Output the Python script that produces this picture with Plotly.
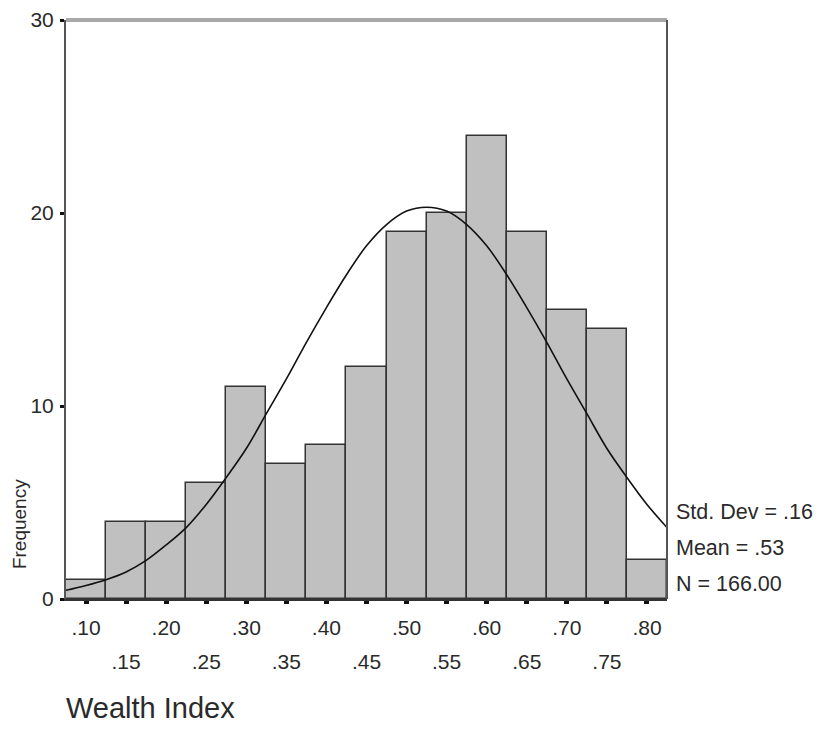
import plotly.graph_objects as go

# Histogram data (bin centres and counts)
bin_centers = [0.10, 0.15, 0.20, 0.25, 0.30, 0.35, 0.40, 0.45, 0.50, 0.55, 0.60, 0.65, 0.70, 0.75, 0.80]
counts = [1, 4, 4, 6, 11, 7, 8, 12, 19, 20, 24, 19, 15, 14, 2]
row1_labels = [".10", ".20", ".30", ".40", ".50", ".60", ".70", ".80"]
row1_vals = [0.10, 0.20, 0.30, 0.40, 0.50, 0.60, 0.70, 0.80]
row2_labels = [".15", ".25", ".35", ".45", ".55", ".65", ".75"]
row2_vals = [0.15, 0.25, 0.35, 0.45, 0.55, 0.65, 0.75]

# Normal curve points
curve_x = [0.075, 0.100, 0.125, 0.150, 0.175, 0.200, 0.225, 0.250, 0.275, 0.300, 0.325,
           0.350, 0.375, 0.400, 0.425, 0.450, 0.475, 0.500, 0.525, 0.550, 0.575, 0.600,
           0.625, 0.650, 0.675, 0.700, 0.725, 0.750, 0.775, 0.800, 0.825]
curve_y = [0.45, 0.7, 1.0, 1.4, 2.0, 2.8, 3.7, 4.9, 6.3, 7.8, 9.6,
           11.4, 13.3, 15.1, 16.8, 18.3, 19.4, 20.1, 20.3, 20.1, 19.4, 18.3,
           16.8, 15.1, 13.3, 11.4, 9.6, 7.8, 6.3, 4.9, 3.7]

y_ticks = [0, 10, 20, 30]
stats_lines = ["Std. Dev = .16", "Mean = .53", "N = 166.00"]

FONT = "Liberation Sans, Arial, sans-serif"
TXT = "#2a2a2a"

fig = go.Figure()
fig.add_trace(go.Bar(
    x=bin_centers, y=counts, width=0.05,
    marker=dict(color="#c0c0c0", line=dict(color="#333333", width=1.5)),
    showlegend=False, hoverinfo="x+y",
))
fig.add_trace(go.Scatter(
    x=curve_x, y=curve_y, mode="lines",
    line=dict(color="#111111", width=1.6, shape="spline"),
    showlegend=False,
))
# invisible trace on second x axis so it renders
fig.add_trace(go.Scatter(x=[0.5], y=[0], xaxis="x2", mode="markers",
                         marker=dict(opacity=0), showlegend=False, hoverinfo="skip"))

fig.update_layout(
    width=813, height=737,
    margin=dict(l=58, r=154, t=12, b=146, autoexpand=False),
    paper_bgcolor="white", plot_bgcolor="white",
    bargap=0,
    font=dict(family=FONT, size=21, color=TXT),
    xaxis=dict(
        range=[0.075, 0.825], showgrid=False, zeroline=False, automargin=False,
        showline=True, linecolor="#333333", linewidth=2,
        tickmode="array", tickvals=bin_centers,
        ticktext=[l if l in row1_labels else "" for l in
                  [".%02d" % round(v * 100) for v in bin_centers]],
        ticks="outside", ticklen=3, tickwidth=5, tickcolor="#111111",
        ticklabelstandoff=6,
        tickfont=dict(size=21, color=TXT),
    ),
    xaxis2=dict(
        range=[0.075, 0.825], overlaying="x", side="bottom", anchor="y",
        showgrid=False, zeroline=False, showline=False, automargin=False,
        tickmode="array", tickvals=row2_vals, ticktext=row2_labels,
        ticks="", ticklabelstandoff=48,
        tickfont=dict(size=21, color=TXT),
    ),
    yaxis=dict(
        range=[0, 30], showgrid=False, zeroline=False, automargin=False,
        showline=True, linecolor="#555555", linewidth=2,
        tickmode="array", tickvals=y_ticks,
        ticks="outside", ticklen=4, tickwidth=3, tickcolor="#111111",
        ticklabelstandoff=2,
        tickfont=dict(size=21, color=TXT),
    ),
    shapes=[
        dict(type="line", xref="paper", yref="paper", x0=0, x1=1, y0=1, y1=1,
             line=dict(color="#a8a8a8", width=4)),
        dict(type="line", xref="paper", yref="paper", x0=1, x1=1, y0=0, y1=1,
             line=dict(color="#555555", width=2)),
    ],
)

annots = []
for i, s in enumerate(stats_lines):
    annots.append(dict(
        text=s, xref="paper", yref="paper", x=1.012, y=(599 - (512 + 36 * i)) / 579,
        xanchor="left", yanchor="middle", showarrow=False,
        font=dict(size=21.5, color=TXT, family=FONT)))
annots.append(dict(
    text="Frequency", xref="paper", yref="paper", x=-0.078, y=(599 - 524) / 579,
    xanchor="center", yanchor="middle", textangle=-90, showarrow=False,
    font=dict(size=19, color=TXT, family=FONT)))
annots.append(dict(
    text="Wealth Index", xref="paper", yref="paper", x=-0.003, y=(599 - 708) / 579,
    xanchor="left", yanchor="middle", showarrow=False,
    font=dict(size=29, color=TXT, family=FONT)))
fig.update_layout(annotations=annots)

fig.write_html("out.html")
